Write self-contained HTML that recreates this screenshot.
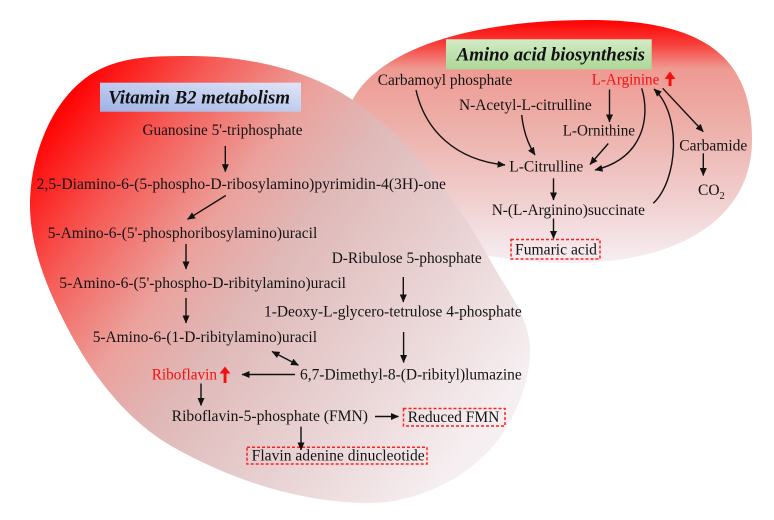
<!DOCTYPE html>
<html>
<head>
<meta charset="utf-8">
<style>
  html,body{margin:0;padding:0;background:#fff;}
  svg{display:block;}
  .t{font-family:"Liberation Serif","Times New Roman",serif;font-size:15.5px;fill:#141414;}
  .r{fill:#f40f0f;}
  .h{font-family:"Liberation Serif","Times New Roman",serif;font-size:18.5px;font-weight:bold;font-style:italic;fill:#111;}
  .a{stroke:#111;stroke-width:1.4;fill:none;}
  .d{fill:none;stroke:#ff2020;stroke-width:1.5;stroke-dasharray:3 2;}
</style>
</head>
<body>
<svg width="774" height="520" viewBox="0 0 774 520" xmlns="http://www.w3.org/2000/svg">
  <defs>
    <linearGradient id="gR" gradientUnits="userSpaceOnUse" x1="0" y1="20" x2="0" y2="263">
      <stop offset="0" stop-color="#ff0000"/>
      <stop offset="0.1" stop-color="#f8403a"/>
      <stop offset="0.2" stop-color="#ee9a92"/>
      <stop offset="0.45" stop-color="#edb1ab"/>
      <stop offset="0.75" stop-color="#f1d0d0"/>
      <stop offset="1" stop-color="#f6eef2"/>
    </linearGradient>
    <linearGradient id="gL" gradientUnits="userSpaceOnUse" x1="40" y1="130" x2="470" y2="450">
      <stop offset="0" stop-color="#ff0000"/>
      <stop offset="0.18" stop-color="#f65a55"/>
      <stop offset="0.36" stop-color="#eba29d"/>
      <stop offset="0.5" stop-color="#dfb8b7"/>
      <stop offset="0.75" stop-color="#e9d3d4"/>
      <stop offset="1" stop-color="#f6eff1"/>
    </linearGradient>
    <linearGradient id="gB" x1="0" y1="1" x2="1" y2="0">
      <stop offset="0" stop-color="#9fb2e6"/>
      <stop offset="1" stop-color="#e0e6f7"/>
    </linearGradient>
    <linearGradient id="gG" x1="0" y1="0" x2="0" y2="1">
      <stop offset="0" stop-color="#d2ebc5"/>
      <stop offset="1" stop-color="#acd898"/>
    </linearGradient>
    <marker id="m" markerUnits="userSpaceOnUse" markerWidth="8" markerHeight="7" viewBox="0 0 8 7" refX="7.5" refY="3.5" orient="auto">
      <path d="M0,0 L8,3.5 L0,7 z" fill="#111"/>
    </marker>
    <marker id="ms" markerUnits="userSpaceOnUse" markerWidth="8" markerHeight="7" viewBox="0 0 8 7" refX="7.5" refY="3.5" orient="auto-start-reverse">
      <path d="M0,0 L8,3.5 L0,7 z" fill="#111"/>
    </marker>
  </defs>

  <!-- Right ellipse (behind) -->
  <path d="M590,20 C703,20 752,56 752,140 C752,216 683,263 570,263 C435,263 345,210 345,130 C345,64 443,20 590,20 Z" fill="url(#gR)"/>

  <!-- Left ellipse -->
  <path d="M190,56 C247.8,56 310.2,69.5 357,103 C412.6,142.8 457.1,199.6 490,260 C505.7,288.9 530,317.2 530,350 C530,379.1 519,408.8 503,433 C475.4,474.6 420.1,503 370,503 C301.7,503 232.4,480.5 173,447 C126.5,420.8 91.6,374.5 67,327 C47.4,289.2 30,247.5 30,205 C30,156.2 51.5,98.4 93,73 C120.9,55.9 157.2,56 190,56 Z" fill="url(#gL)"/>

  <!-- Title boxes -->
  <rect x="100" y="82.7" width="201" height="29" fill="url(#gB)"/>
  <text class="h" x="108.3" y="103.5" textLength="181.7" lengthAdjust="spacingAndGlyphs">Vitamin B2 metabolism</text>
  <rect x="446" y="39.3" width="205.7" height="30" fill="url(#gG)"/>
  <text class="h" x="456.7" y="60.5" textLength="188.3" lengthAdjust="spacingAndGlyphs">Amino acid biosynthesis</text>

  <!-- Left texts -->
  <text class="t" x="142.5" y="135" textLength="160" lengthAdjust="spacingAndGlyphs">Guanosine 5'-triphosphate</text>
  <text class="t" x="36.7" y="189" textLength="409.3" lengthAdjust="spacingAndGlyphs">2,5-Diamino-6-(5-phospho-D-ribosylamino)pyrimidin-4(3H)-one</text>
  <text class="t" x="47.7" y="238" textLength="269.6" lengthAdjust="spacingAndGlyphs">5-Amino-6-(5'-phosphoribosylamino)uracil</text>
  <text class="t" x="59.3" y="288" textLength="286.7" lengthAdjust="spacingAndGlyphs">5-Amino-6-(5'-phospho-D-ribitylamino)uracil</text>
  <text class="t" x="92.7" y="342" textLength="224.3" lengthAdjust="spacingAndGlyphs">5-Amino-6-(1-D-ribitylamino)uracil</text>
  <text class="t" x="331.7" y="263" textLength="150" lengthAdjust="spacingAndGlyphs">D-Ribulose 5-phosphate</text>
  <text class="t" x="264" y="316.7" textLength="257.7" lengthAdjust="spacingAndGlyphs">1-Deoxy-L-glycero-tetrulose 4-phosphate</text>
  <text class="t" x="300" y="379.3" textLength="221.7" lengthAdjust="spacingAndGlyphs">6,7-Dimethyl-8-(D-ribityl)lumazine</text>
  <text class="t r" x="151.7" y="379.3" textLength="65.3" lengthAdjust="spacingAndGlyphs">Riboflavin</text>
  <text class="t" x="171.7" y="421" textLength="196.3" lengthAdjust="spacingAndGlyphs">Riboflavin-5-phosphate (FMN)</text>
  <rect class="d" x="403.5" y="408.5" width="101.5" height="17.5"/>
  <text class="t" x="407.7" y="422" textLength="91.6" lengthAdjust="spacingAndGlyphs">Reduced FMN</text>
  <rect class="d" x="247" y="447.3" width="180" height="16.7"/>
  <text class="t" x="251.7" y="460.7" textLength="173" lengthAdjust="spacingAndGlyphs">Flavin adenine dinucleotide</text>

  <!-- Left arrows -->
  <line class="a" x1="225.3" y1="146" x2="225.3" y2="171.7" marker-end="url(#m)"/>
  <line class="a" x1="225.8" y1="195.5" x2="187.5" y2="219.3" marker-end="url(#m)"/>
  <line class="a" x1="186" y1="244" x2="186" y2="269" marker-end="url(#m)"/>
  <line class="a" x1="186" y1="298" x2="186" y2="323" marker-end="url(#m)"/>
  <line class="a" x1="403.3" y1="277" x2="403.3" y2="302" marker-end="url(#m)"/>
  <line class="a" x1="403.6" y1="332" x2="403.6" y2="362.5" marker-end="url(#m)"/>
  <line class="a" x1="272" y1="351.5" x2="298.5" y2="365.3" marker-start="url(#ms)" marker-end="url(#m)"/>
  <line class="a" x1="295" y1="374.5" x2="242" y2="374.5" marker-end="url(#m)"/>
  <line class="a" x1="201" y1="383.5" x2="201" y2="405.5" marker-end="url(#m)"/>
  <line class="a" x1="375" y1="416.5" x2="398.5" y2="416.5" marker-end="url(#m)"/>
  <line class="a" x1="301" y1="426.7" x2="301" y2="450" marker-end="url(#m)"/>

  <!-- Red up arrow (Riboflavin) -->
  <rect x="223.6" y="372" width="2.9" height="11" fill="#f40f0f"/>
  <polygon points="219.6,373.5 225,366.5 230.4,373.5" fill="#f40f0f"/>

  <!-- Right texts -->
  <text class="t" x="377.7" y="85" textLength="134.6" lengthAdjust="spacingAndGlyphs">Carbamoyl phosphate</text>
  <text class="t r" x="591.7" y="84.5" textLength="67.6" lengthAdjust="spacingAndGlyphs">L-Arginine</text>
  <text class="t" x="459" y="110" textLength="132.7" lengthAdjust="spacingAndGlyphs">N-Acetyl-L-citrulline</text>
  <text class="t" x="562.7" y="135.5" textLength="72.3" lengthAdjust="spacingAndGlyphs">L-Ornithine</text>
  <text class="t" x="509.3" y="171.5" textLength="74" lengthAdjust="spacingAndGlyphs">L-Citrulline</text>
  <text class="t" x="491.7" y="215" textLength="153.3" lengthAdjust="spacingAndGlyphs">N-(L-Arginino)succinate</text>
  <rect class="d" x="511" y="239.5" width="89" height="19.5"/>
  <text class="t" x="515" y="254.5" textLength="82" lengthAdjust="spacingAndGlyphs">Fumaric acid</text>
  <text class="t" x="679.3" y="150.5" textLength="68" lengthAdjust="spacingAndGlyphs">Carbamide</text>
  <text class="t" x="698" y="195">CO<tspan font-size="10.5" dy="4">2</tspan></text>

  <!-- Red up arrow (L-Arginine) -->
  <rect x="668.6" y="77.5" width="2.9" height="8.5" fill="#f40f0f"/>
  <polygon points="664.6,79 670,71.5 675.4,79" fill="#f40f0f"/>

  <!-- Right arrows -->
  <path class="a" d="M416,90 C425,130 455,160 505,165" marker-end="url(#m)"/>
  <path class="a" d="M521.7,115 Q524,138 535,155" marker-end="url(#m)"/>
  <line class="a" x1="608.3" y1="143.5" x2="590" y2="164.5" marker-end="url(#m)"/>
  <line class="a" x1="609.5" y1="89.5" x2="609.5" y2="122" marker-end="url(#m)"/>
  <path class="a" d="M641.7,88.3 C650,115 645,158 595,170" marker-end="url(#m)"/>
  <path class="a" d="M653.3,203.3 C678,180 682,115 654,89" marker-end="url(#m)"/>
  <line class="a" x1="662.7" y1="88.3" x2="703.3" y2="131.7" marker-end="url(#m)"/>
  <line class="a" x1="703.3" y1="153.3" x2="703.3" y2="175.5" marker-end="url(#m)"/>
  <line class="a" x1="553.5" y1="178.3" x2="553.5" y2="200" marker-end="url(#m)"/>
  <line class="a" x1="553.5" y1="218.5" x2="553.5" y2="238.5" marker-end="url(#m)"/>
</svg>
</body>
</html>
